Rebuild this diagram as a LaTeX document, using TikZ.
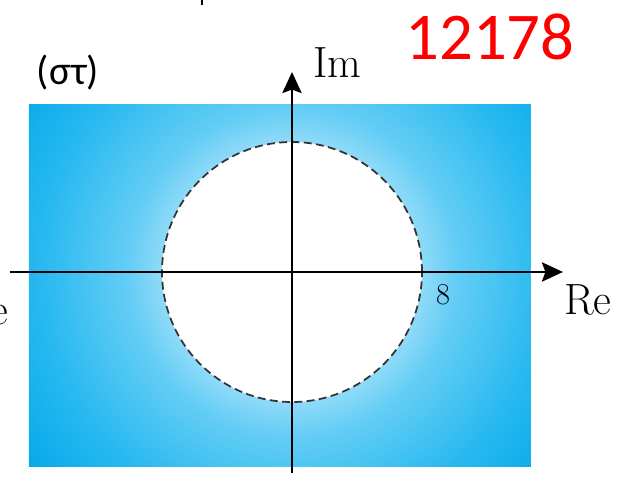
\documentclass[tikz,border=0pt]{standalone}
\usepackage{fontspec}
\newfontfamily\calib{Carlito}
\usetikzlibrary{arrows.meta}
\definecolor{skyA}{RGB}{165,225,250}
\definecolor{skyB}{RGB}{100,205,245}
\definecolor{skyC}{RGB}{40,185,240}
\definecolor{skyD}{RGB}{5,168,235}
\pgfdeclareradialshading{skyfade}{\pgfpoint{0bp}{0bp}}{color(0bp)=(white); color(4bp)=(white!60!skyA); color(8.6bp)=(skyA); color(12.4bp)=(skyB); color(19bp)=(skyC); color(25bp)=(skyD); color(50bp)=(skyD)}
\tikzset{
  axis/.style={line width=1.1pt,-{Stealth[length=12pt,width=11pt,inset=2pt]}},
  label/.style={inner sep=0pt,font=\Huge}
}
\begin{document}
\begin{tikzpicture}
\useasboundingbox (-5.84,-4.12) rectangle (6.62,5.44);
% shaded plane
\begin{scope}
\clip (-5.26,-3.9) rectangle (4.78,3.34);
\shade[shading=skyfade] (0,0) circle (6.6);
\end{scope}
\draw[fill=white,draw=black!80,line width=1pt,dash pattern=on 4.5pt off 2.5pt] (0,0) circle (2.6);
% axes
\draw[axis] (-5.64,0) -- (5.42,0);
\draw[axis] (0,-4.02) -- (0,4.0);
\draw[line width=0.8pt] (-1.8,5.44) -- (-1.8,5.34);
\node[label] (im) at (0.91,4.18) {Im};
\node[label,anchor=base] (re) at (5.92,-0.86) {Re};
\node[label,anchor=base east] (recut) at (-5.66,-1.06) {Re};
\node[inner sep=0pt,font=\LARGE] (eight) at (3.02,-0.46) {8};
\node[inner sep=0pt] (plane) at (-4.48,3.98) {\calib\fontsize{23}{28}\selectfont (στ)};
\node[inner sep=0pt,text=red] (tag) at (3.96,4.7) {\calib\fontsize{38}{44}\selectfont 12178};
\end{tikzpicture}
\end{document}
